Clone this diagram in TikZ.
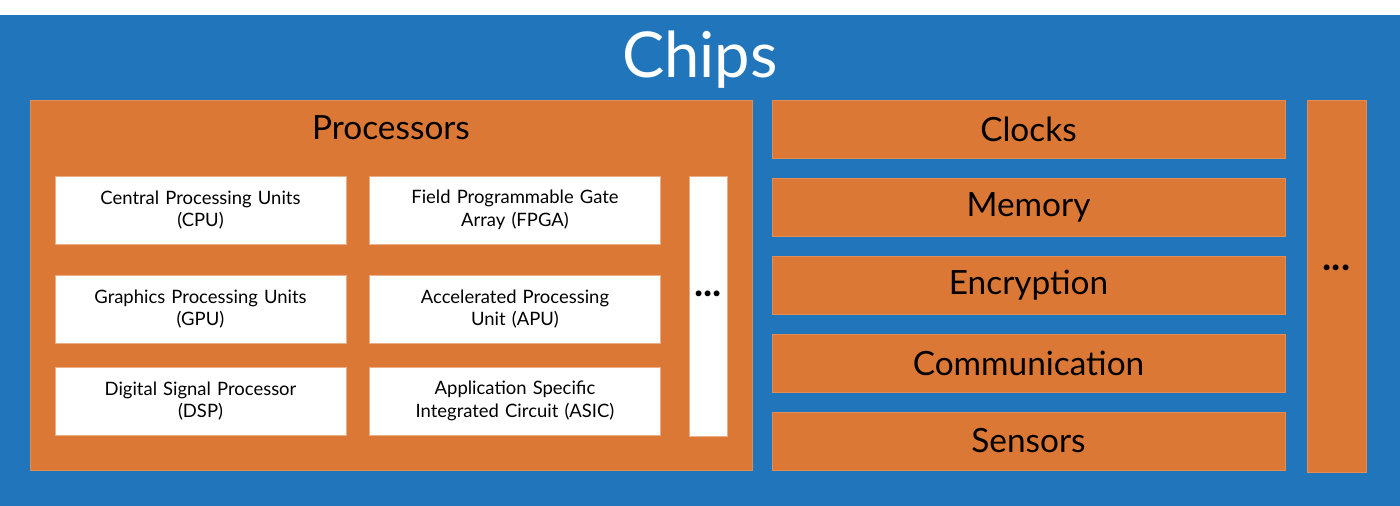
\documentclass[tikz,border=0pt]{standalone}
\usepackage{fontspec}
\setmainfont{Lato}
\usetikzlibrary{positioning}
\definecolor{chipblue}{RGB}{33,118,187}
\definecolor{chiporange}{RGB}{220,120,54}
\begin{document}
\begin{tikzpicture}[x=0.02cm, y=-0.02cm,
    part/.style={rectangle, fill=chiporange, draw=chiporange!85!white, inner sep=0pt, font=\fontsize{19}{22}\selectfont},
    unit/.style={rectangle, fill=white, draw=chiporange!60!white, inner sep=0pt, minimum width=291*0.02cm, minimum height=68*0.02cm, text width=270*0.02cm, align=center, font=\fontsize{10.5}{13}\selectfont},
    dots/.style={font=\fontsize{22}{22}\selectfont\bfseries}]
    \useasboundingbox (0,0) rectangle (1400,506);
    \fill[chipblue] (0,15) rectangle (1400,506);
    \node[text=white, font=\fontsize{36}{40}\selectfont] (chips) at (700,60) {Chips};

    % processors
    \node[part, minimum width=722*0.02cm, minimum height=370*0.02cm] (proc) at (391,285) {};
    \node[font=\fontsize{19}{22}\selectfont] (proctitle) at (391,128) {Processors};
    \node[unit] (cpu) at (200.5,210) {Central Processing Units\\(CPU)};
    \node[unit] (fpga) at (515,210) {Field Programmable Gate\\Array (FPGA)};
    \node[unit] (gpu) at (200.5,309) {Graphics Processing Units\\(GPU)};
    \node[unit] (apu) at (515,309) {Accelerated Processing\\Unit (APU)};
    \node[unit] (dsp) at (200.5,401) {Digital Signal Processor\\(DSP)};
    \node[unit] (asic) at (515,401) {Application Specific\\Integrated Circuit (ASIC)};
    \node[unit, minimum width=38*0.02cm, minimum height=260*0.02cm, text width=30*0.02cm] (more) at (708,306) {};
    \node[dots] at (708,294) {...};

    % other chips
    \foreach \y/\name/\txt in {129/clk/Clocks, 207/mem/Memory, 285/enc/Encryption / Security,
                               363/com/Communication / Radios, 441/sen/Sensors}
        \node[part, minimum width=513*0.02cm, minimum height=58*0.02cm] (\name) at (1028.5,\y) {\txt};
    \node[part, minimum width=59*0.02cm, minimum height=372*0.02cm] (rest) at (1336.5,286) {};
    \node[dots] at (1336.5,268) {...};
\end{tikzpicture}
\end{document}
